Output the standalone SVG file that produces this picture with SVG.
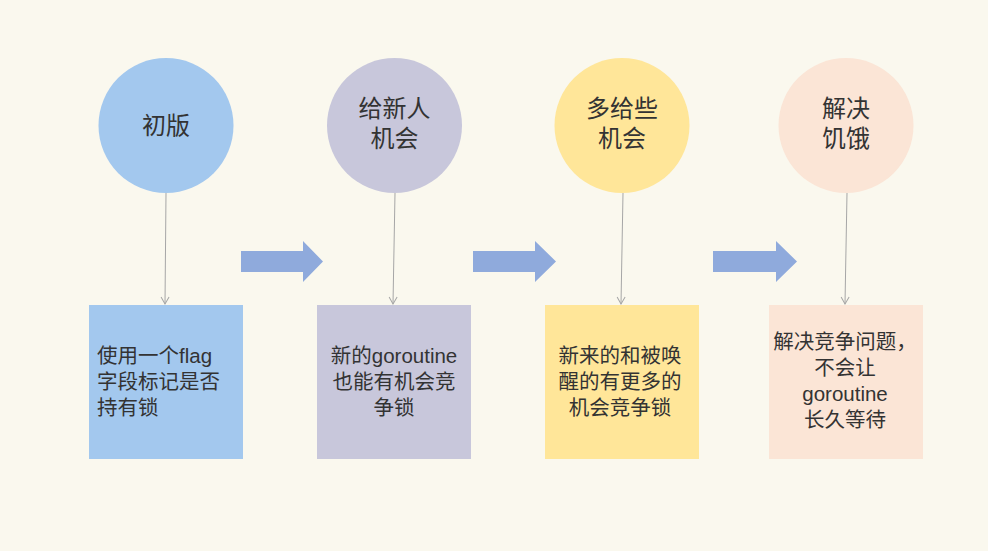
<svg xmlns="http://www.w3.org/2000/svg" width="988" height="551" viewBox="0 0 988 551">
<defs>
<style>
.t{font-family:"Liberation Sans","Noto Sans CJK SC",sans-serif;fill:#333333;}
.c{font-size:24px;text-anchor:middle;}
.b{font-size:20.5px;}
.m{text-anchor:middle;}
.ln{stroke:#a6a6a6;stroke-width:1;fill:none;marker-end:url(#ah);}
.ba{fill:#8FAADC;}
</style>
<marker id="ah" markerWidth="10" markerHeight="10" refX="8" refY="5" orient="auto" markerUnits="userSpaceOnUse">
<path d="M1,1 L8,5 L1,9" fill="none" stroke="#a6a6a6" stroke-width="1"/>
</marker>
</defs>
<rect width="988" height="551" fill="#FAF8EE"/>
<g id="connectors">
<line class="ln" x1="166" y1="193" x2="165" y2="304"/>
<line class="ln" x1="395" y1="193" x2="393" y2="304"/>
<line class="ln" x1="623" y1="193" x2="621" y2="304"/>
<line class="ln" x1="847" y1="193" x2="845" y2="304"/>
<polygon class="ba" points="241,251 303,251 303,241 323,261.5 303,282 303,272 241,272"/>
<polygon class="ba" points="473,251 535,251 535,241 556,261.5 535,282 535,272 473,272"/>
<polygon class="ba" points="713,251 776,251 776,241 797,261.5 776,282 776,272 713,272"/>
</g>
<g id="c1">
<circle cx="166" cy="125.5" r="67.5" fill="#A3C8EE"/>
<text class="t c" x="166" y="134">初版</text>
</g>
<g id="c2">
<circle cx="394.5" cy="125.5" r="67.5" fill="#C8C7DB"/>
<text class="t c" x="394.5" y="117">给新人<tspan x="394.5" dy="30">机会</tspan></text>
</g>
<g id="c3">
<circle cx="622" cy="125.5" r="67.5" fill="#FFE699"/>
<text class="t c" x="622" y="117">多给些<tspan x="622" dy="30">机会</tspan></text>
</g>
<g id="c4">
<circle cx="846" cy="125.5" r="67.5" fill="#FBE5D6"/>
<text class="t c" x="846" y="117">解决<tspan x="846" dy="30">饥饿</tspan></text>
</g>
<g id="r1">
<rect x="89" y="305" width="154" height="154" fill="#A3C8EE"/>
<text class="t b" x="97" y="363">使用一个flag<tspan x="97" dy="26">字段标记是否</tspan><tspan x="97" dy="26">持有锁</tspan></text>
</g>
<g id="r2">
<rect x="317" y="305" width="154" height="154" fill="#C8C7DB"/>
<text class="t b m" x="394" y="363">新的goroutine<tspan x="394" dy="26">也能有机会竞</tspan><tspan x="394" dy="26">争锁</tspan></text>
</g>
<g id="r3">
<rect x="545" y="305" width="154" height="154" fill="#FFE699"/>
<text class="t b m" x="620" y="363">新来的和被唤<tspan x="620" dy="26">醒的有更多的</tspan><tspan x="620" dy="26">机会竞争锁</tspan></text>
</g>
<g id="r4">
<rect x="769" y="305" width="154" height="154" fill="#FBE5D6"/>
<text class="t b m" x="845" y="349">解决竞争问题，<tspan x="845" dy="26">不会让</tspan><tspan x="845" dy="26">goroutine</tspan><tspan x="845" dy="26">长久等待</tspan></text>
</g>
</svg>
